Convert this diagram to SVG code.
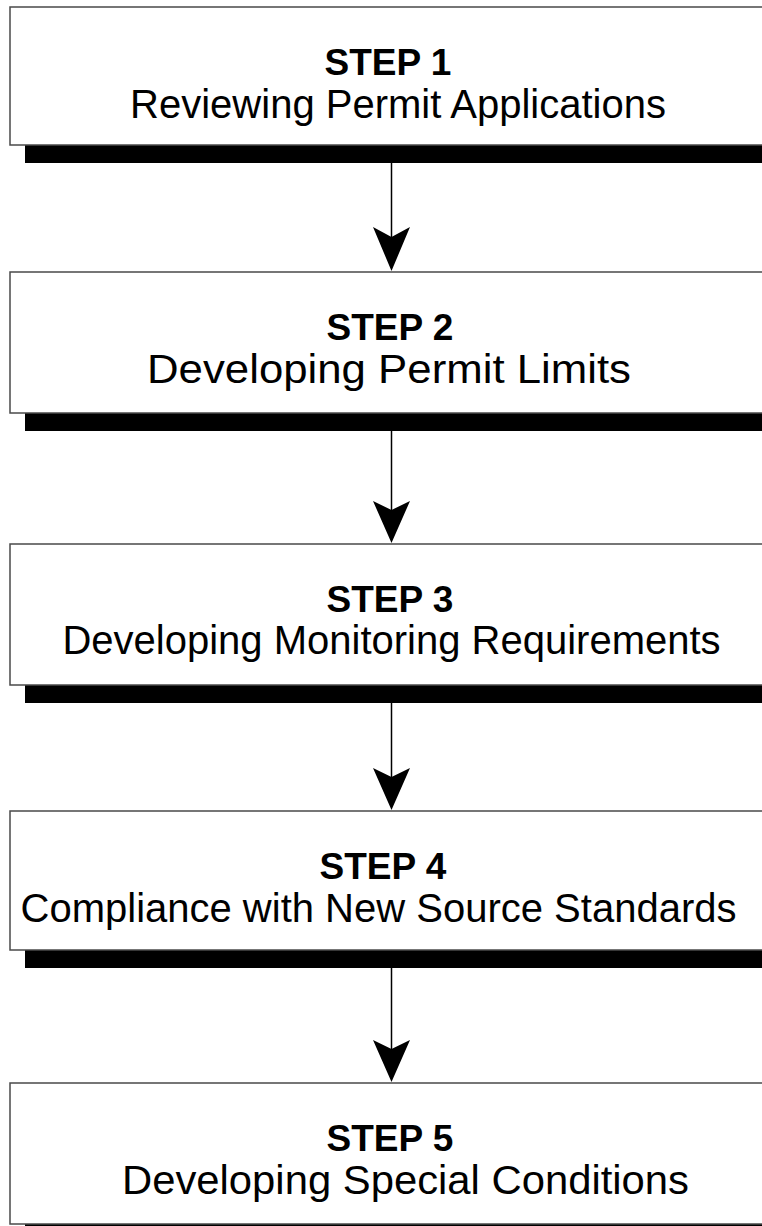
<svg xmlns="http://www.w3.org/2000/svg" width="762" height="1226" viewBox="0 0 762 1226">
<style>
.box{fill:#fff;stroke:#4a4a4a;stroke-width:1.5}
.shadow{fill:#000}
.step{font-family:"Liberation Sans",Arial,sans-serif;font-weight:bold;font-size:37px;fill:#000;text-anchor:middle}
.label{font-family:"Liberation Sans",Arial,sans-serif;font-size:40px;fill:#000;text-anchor:middle}
.conn{stroke:#000;stroke-width:1.5;fill:none}
.head{fill:#000}
</style>
<rect width="762" height="1226" fill="#fff"/>
<g id="node1">
<rect class="shadow" x="25" y="145" width="760" height="18"/>
<rect class="box" x="10" y="7" width="800" height="138"/>
<text class="step" x="388" y="75">STEP 1</text>
<text class="label" x="398" y="118">Reviewing Permit Applications</text>
</g>
<g id="node2">
<rect class="shadow" x="25" y="413" width="760" height="18"/>
<rect class="box" x="10" y="272" width="800" height="141"/>
<text class="step" x="390" y="340">STEP 2</text>
<text class="label" x="389" y="383" textLength="484" lengthAdjust="spacingAndGlyphs">Developing Permit Limits</text>
</g>
<g id="node3">
<rect class="shadow" x="25" y="685" width="760" height="18"/>
<rect class="box" x="10" y="544" width="800" height="141"/>
<text class="step" x="390" y="612">STEP 3</text>
<text class="label" x="391.5" y="654">Developing Monitoring Requirements</text>
</g>
<g id="node4">
<rect class="shadow" x="25" y="950" width="760" height="18"/>
<rect class="box" x="10" y="811" width="800" height="139"/>
<text class="step" x="383" y="879">STEP 4</text>
<text class="label" x="378.5" y="922">Compliance with New Source Standards</text>
</g>
<g id="node5">
<rect class="shadow" x="25" y="1224" width="760" height="18"/>
<rect class="box" x="10" y="1083" width="800" height="141"/>
<text class="step" x="390" y="1151">STEP 5</text>
<text class="label" x="405.5" y="1194" textLength="567" lengthAdjust="spacingAndGlyphs">Developing Special Conditions</text>
</g>
<g id="connectors">
<line class="conn" x1="391.5" y1="163" x2="391.5" y2="240"/>
<polygon class="head" points="391.5,271 373,227 391.5,237 410,227"/>
<line class="conn" x1="391.5" y1="431" x2="391.5" y2="512"/>
<polygon class="head" points="391.5,543 373,501 391.5,510 410,501"/>
<line class="conn" x1="391.5" y1="703" x2="391.5" y2="780"/>
<polygon class="head" points="391.5,810 373,768 391.5,777 410,768"/>
<line class="conn" x1="391.5" y1="968" x2="391.5" y2="1052"/>
<polygon class="head" points="391.5,1082 373,1040 391.5,1049 410,1040"/>
</g>
</svg>
